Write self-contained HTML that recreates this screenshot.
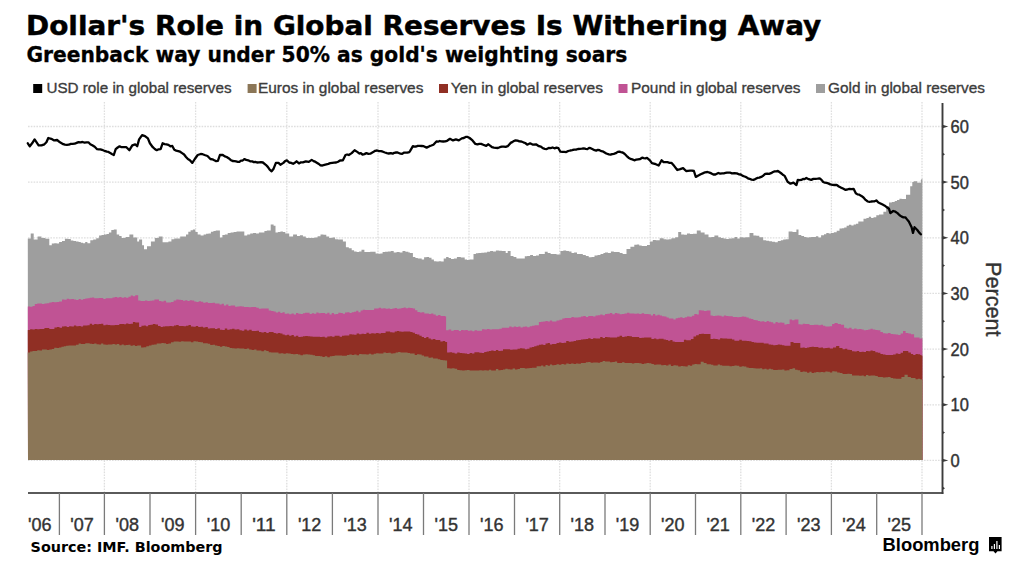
<!DOCTYPE html>
<html><head><meta charset="utf-8"><title>Dollar's Role in Global Reserves Is Withering Away</title>
<style>
html,body{margin:0;padding:0;background:#fff;}
body{width:1024px;height:566px;overflow:hidden;}
svg{display:block;font-family:"Liberation Sans",Arial,sans-serif;}
</style></head><body>
<svg width="1024" height="566" viewBox="0 0 1024 566">
<rect width="1024" height="566" fill="#fff"/>
<line x1="28.0" y1="460.4" x2="942" y2="460.4" stroke="#dedede" stroke-width="1.3" stroke-dasharray="1.6,1.2"/>
<line x1="28.0" y1="404.8" x2="942" y2="404.8" stroke="#dedede" stroke-width="1.3" stroke-dasharray="1.6,1.2"/>
<line x1="28.0" y1="349.1" x2="942" y2="349.1" stroke="#dedede" stroke-width="1.3" stroke-dasharray="1.6,1.2"/>
<line x1="28.0" y1="293.4" x2="942" y2="293.4" stroke="#dedede" stroke-width="1.3" stroke-dasharray="1.6,1.2"/>
<line x1="28.0" y1="237.8" x2="942" y2="237.8" stroke="#dedede" stroke-width="1.3" stroke-dasharray="1.6,1.2"/>
<line x1="28.0" y1="182.1" x2="942" y2="182.1" stroke="#dedede" stroke-width="1.3" stroke-dasharray="1.6,1.2"/>
<line x1="28.0" y1="126.5" x2="942" y2="126.5" stroke="#dedede" stroke-width="1.3" stroke-dasharray="1.6,1.2"/>
<line x1="104.4" y1="102" x2="104.4" y2="493" stroke="#dedede" stroke-width="1.3" stroke-dasharray="1.6,1.2"/>
<line x1="195.6" y1="102" x2="195.6" y2="493" stroke="#dedede" stroke-width="1.3" stroke-dasharray="1.6,1.2"/>
<line x1="286.8" y1="102" x2="286.8" y2="493" stroke="#dedede" stroke-width="1.3" stroke-dasharray="1.6,1.2"/>
<line x1="378.0" y1="102" x2="378.0" y2="493" stroke="#dedede" stroke-width="1.3" stroke-dasharray="1.6,1.2"/>
<line x1="469.0" y1="102" x2="469.0" y2="493" stroke="#dedede" stroke-width="1.3" stroke-dasharray="1.6,1.2"/>
<line x1="559.7" y1="102" x2="559.7" y2="493" stroke="#dedede" stroke-width="1.3" stroke-dasharray="1.6,1.2"/>
<line x1="650.2" y1="102" x2="650.2" y2="493" stroke="#dedede" stroke-width="1.3" stroke-dasharray="1.6,1.2"/>
<line x1="740.8" y1="102" x2="740.8" y2="493" stroke="#dedede" stroke-width="1.3" stroke-dasharray="1.6,1.2"/>
<line x1="831.4" y1="102" x2="831.4" y2="493" stroke="#dedede" stroke-width="1.3" stroke-dasharray="1.6,1.2"/>
<line x1="922.0" y1="102" x2="922.0" y2="493" stroke="#dedede" stroke-width="1.3" stroke-dasharray="1.6,1.2"/>
<path d="M28.0,460.0 L27.8,238.4 L30.7,238.4 L30.7,233.6 L33.7,233.6 L33.7,239.4 L37.6,239.4 L37.6,236.5 L41.5,236.5 L41.5,238.0 L45.4,238.0 L45.4,238.8 L49.3,238.8 L49.3,245.3 L51.8,245.3 L51.8,243.5 L54.2,243.5 L54.2,243.3 L56.7,243.3 L56.7,243.4 L59.1,243.4 L59.1,242.0 L62.0,242.0 L62.0,241.0 L64.9,241.0 L64.9,238.8 L67.8,238.8 L67.8,239.1 L70.8,239.1 L70.8,240.4 L73.4,240.4 L73.4,240.9 L76.0,240.9 L76.0,241.4 L78.6,241.4 L78.6,242.0 L80.8,242.0 L80.8,242.7 L83.0,242.7 L83.0,243.3 L85.2,243.3 L85.2,242.1 L87.4,242.1 L87.4,243.3 L90.3,243.3 L90.3,240.3 L93.2,240.3 L93.2,239.4 L96.2,239.4 L96.2,238.2 L99.1,238.2 L99.1,235.5 L101.5,235.5 L101.5,234.9 L104.0,234.9 L104.0,234.5 L106.5,234.5 L106.5,234.1 L108.9,234.1 L108.9,232.6 L111.3,232.6 L111.3,230.0 L113.8,230.0 L113.8,229.6 L116.7,229.6 L116.7,234.5 L119.2,234.5 L119.2,236.1 L121.6,236.1 L121.6,238.0 L125.5,238.0 L125.5,236.9 L129.4,236.9 L129.4,234.5 L133.3,234.5 L133.3,237.5 L137.2,237.5 L137.2,241.4 L139.1,241.4 L139.1,239.4 L142.1,239.4 L142.1,245.3 L144.0,245.3 L144.0,249.2 L147.0,249.2 L147.0,246.2 L150.9,246.2 L150.9,241.4 L154.8,241.4 L154.8,238.0 L158.7,238.0 L158.7,236.5 L162.6,236.5 L162.6,242.3 L165.5,242.3 L165.5,242.3 L168.4,242.3 L168.4,241.4 L171.4,241.4 L171.4,239.3 L174.3,239.3 L174.3,238.4 L177.2,238.4 L177.2,238.4 L180.2,238.4 L180.2,236.5 L183.1,236.5 L183.1,236.4 L186.0,236.4 L186.0,234.5 L188.3,234.5 L188.3,231.8 L190.6,231.8 L190.6,230.2 L192.9,230.2 L192.9,229.6 L195.3,229.6 L195.3,232.1 L197.7,232.1 L197.7,234.5 L200.6,234.5 L200.6,235.5 L203.6,235.5 L203.6,234.5 L206.1,234.5 L206.1,233.8 L208.5,233.8 L208.5,233.6 L210.9,233.6 L210.9,231.7 L213.4,231.7 L213.4,231.0 L215.7,231.0 L215.7,230.6 L217.9,230.6 L217.9,230.6 L219.9,230.6 L219.9,237.5 L222.4,237.5 L222.4,235.0 L224.8,235.0 L224.8,234.5 L227.7,234.5 L227.7,232.9 L230.6,232.9 L230.6,232.6 L233.6,232.6 L233.6,232.0 L236.5,232.0 L236.5,231.6 L240.4,231.6 L240.4,231.6 L244.3,231.6 L244.3,235.5 L247.2,235.5 L247.2,234.5 L250.2,234.5 L250.2,233.6 L253.1,233.6 L253.1,233.0 L256.0,233.0 L256.0,233.6 L258.9,233.6 L258.9,232.5 L261.9,232.5 L261.9,232.6 L264.4,232.6 L264.4,231.0 L266.8,231.0 L266.8,230.6 L270.7,230.6 L270.7,224.4 L273.6,224.4 L273.6,225.7 L275.5,225.7 L275.5,232.6 L277.9,232.6 L277.9,232.0 L280.4,232.0 L280.4,231.6 L282.9,231.6 L282.9,232.1 L285.3,232.1 L285.3,233.6 L289.2,233.6 L289.2,236.5 L293.1,236.5 L293.1,234.5 L297.0,234.5 L297.0,236.1 L299.9,236.1 L299.9,235.2 L302.9,235.2 L302.9,236.5 L305.8,236.5 L305.8,238.0 L308.8,238.0 L308.8,238.0 L311.7,238.0 L311.7,237.9 L314.6,237.9 L314.6,237.5 L317.6,237.5 L317.6,236.3 L320.5,236.3 L320.5,234.5 L323.4,234.5 L323.4,234.8 L326.3,234.8 L326.3,236.5 L329.2,236.5 L329.2,238.1 L332.2,238.1 L332.2,237.5 L335.1,237.5 L335.1,239.2 L338.0,239.2 L338.0,239.4 L340.4,239.4 L340.4,239.6 L342.9,239.6 L342.9,241.4 L345.9,241.4 L345.9,247.2 L348.8,247.2 L348.8,248.3 L351.7,248.3 L351.7,250.2 L354.1,250.2 L354.1,251.6 L356.6,251.6 L356.6,252.1 L359.1,252.1 L359.1,251.4 L361.5,251.4 L361.5,249.8 L364.4,249.8 L364.4,251.9 L367.3,251.9 L367.3,252.1 L370.2,252.1 L370.2,251.7 L373.2,251.7 L373.2,251.7 L375.6,251.7 L375.6,253.4 L378.1,253.4 L378.1,253.7 L380.4,253.7 L380.4,253.4 L382.6,253.4 L382.6,251.9 L384.9,251.9 L384.9,251.7 L387.9,251.7 L387.9,251.6 L390.8,251.6 L390.8,251.1 L393.7,251.1 L393.7,252.4 L396.6,252.4 L396.6,252.1 L399.6,252.1 L399.6,252.4 L402.5,252.4 L402.5,251.1 L405.4,251.1 L405.4,251.8 L408.4,251.8 L408.4,252.5 L410.0,252.5 L410.0,253.1 L412.9,253.1 L412.9,257.0 L415.4,257.0 L415.4,257.9 L417.8,257.9 L417.8,258.4 L421.7,258.4 L421.7,259.5 L424.1,259.5 L424.1,257.2 L426.6,257.2 L426.6,257.0 L429.1,257.0 L429.1,257.7 L431.5,257.7 L431.5,259.5 L433.9,259.5 L433.9,261.2 L436.4,261.2 L436.4,261.5 L438.8,261.5 L438.8,261.3 L441.2,261.3 L441.2,261.5 L443.7,261.5 L443.7,258.5 L446.1,258.5 L446.1,257.0 L448.6,257.0 L448.6,258.1 L451.0,258.1 L451.0,258.9 L453.9,258.9 L453.9,258.4 L456.9,258.4 L456.9,257.0 L460.8,257.0 L460.8,257.6 L464.7,257.6 L464.7,259.5 L467.1,259.5 L467.1,259.9 L469.6,259.9 L469.6,259.5 L473.5,259.5 L473.5,254.1 L475.9,254.1 L475.9,253.3 L478.4,253.3 L478.4,253.1 L481.3,253.1 L481.3,252.7 L484.2,252.7 L484.2,252.5 L487.1,252.5 L487.1,251.8 L490.1,251.8 L490.1,251.1 L493.0,251.1 L493.0,251.4 L495.9,251.4 L495.9,250.5 L498.9,250.5 L498.9,250.8 L501.8,250.8 L501.8,251.1 L505.7,251.1 L505.7,253.1 L507.7,253.1 L507.7,251.1 L510.6,251.1 L510.6,256.0 L513.5,256.0 L513.5,257.0 L516.4,257.0 L516.4,258.4 L519.3,258.4 L519.3,258.4 L522.3,258.4 L522.3,258.4 L524.8,258.4 L524.8,256.2 L527.2,256.2 L527.2,256.0 L530.1,256.0 L530.1,255.0 L533.0,255.0 L533.0,256.0 L536.0,256.0 L536.0,255.5 L538.9,255.5 L538.9,254.1 L541.8,254.1 L541.8,254.0 L544.8,254.0 L544.8,251.7 L547.7,251.7 L547.7,253.1 L550.6,253.1 L550.6,254.1 L553.5,254.1 L553.5,254.1 L556.5,254.1 L556.5,254.5 L560.4,254.5 L560.4,251.1 L563.3,251.1 L563.3,250.4 L566.2,250.4 L566.2,251.1 L568.9,251.1 L568.9,251.6 L571.5,251.6 L571.5,253.1 L574.1,253.1 L574.1,252.5 L577.0,252.5 L577.0,253.9 L579.9,253.9 L579.9,254.1 L582.8,254.1 L582.8,255.1 L585.8,255.1 L585.8,256.0 L588.7,256.0 L588.7,257.3 L591.6,257.3 L591.6,257.0 L594.5,257.0 L594.5,255.4 L597.5,255.4 L597.5,255.0 L600.5,255.0 L600.5,254.1 L603.4,254.1 L603.4,253.1 L605.0,253.1 L605.0,252.6 L608.0,252.6 L608.0,253.0 L610.9,253.0 L610.9,251.4 L613.8,251.4 L613.8,251.9 L616.7,251.9 L616.7,252.0 L619.7,252.0 L619.7,252.9 L622.6,252.9 L622.6,253.9 L626.5,253.9 L626.5,249.1 L630.4,249.1 L630.4,246.7 L634.3,246.7 L634.3,244.8 L636.8,244.8 L636.8,244.6 L639.2,244.6 L639.2,245.5 L641.7,245.5 L641.7,245.9 L644.1,245.9 L644.1,246.1 L647.0,246.1 L647.0,244.9 L649.9,244.9 L649.9,241.6 L652.8,241.6 L652.8,239.9 L655.8,239.9 L655.8,240.3 L659.7,240.3 L659.7,238.3 L663.6,238.3 L663.6,239.3 L666.2,239.3 L666.2,239.6 L668.8,239.6 L668.8,239.3 L671.4,239.3 L671.4,238.3 L675.3,238.3 L675.3,237.3 L678.2,237.3 L678.2,231.9 L681.2,231.9 L681.2,234.4 L684.1,234.4 L684.1,234.7 L687.0,234.7 L687.0,233.4 L690.0,233.4 L690.0,234.1 L692.9,234.1 L692.9,233.8 L696.8,233.8 L696.8,230.5 L700.7,230.5 L700.7,232.5 L704.6,232.5 L704.6,234.4 L708.5,234.4 L708.5,237.3 L711.5,237.3 L711.5,237.0 L714.4,237.0 L714.4,235.4 L718.3,235.4 L718.3,237.3 L720.9,237.3 L720.9,237.9 L723.5,237.9 L723.5,238.5 L726.1,238.5 L726.1,238.9 L729.0,238.9 L729.0,238.4 L732.0,238.4 L732.0,238.3 L734.6,238.3 L734.6,237.0 L737.2,237.0 L737.2,238.4 L739.8,238.4 L739.8,237.3 L742.7,237.3 L742.7,237.5 L745.6,237.5 L745.6,237.3 L749.5,237.3 L749.5,233.0 L753.4,233.0 L753.4,235.4 L756.3,235.4 L756.3,235.7 L759.3,235.7 L759.3,237.3 L763.2,237.3 L763.2,240.3 L766.2,240.3 L766.2,240.8 L769.1,240.8 L769.1,241.2 L772.0,241.2 L772.0,241.7 L774.9,241.7 L774.9,242.2 L777.8,242.2 L777.8,240.9 L780.8,240.9 L780.8,240.3 L783.2,240.3 L783.2,239.5 L785.7,239.5 L785.7,239.3 L788.6,239.3 L788.6,231.5 L792.5,231.5 L792.5,231.9 L796.4,231.9 L796.4,229.5 L798.5,229.5 L798.5,235.0 L801.3,235.0 L801.3,236.1 L804.1,236.1 L804.1,237.1 L806.5,237.1 L806.5,237.4 L808.8,237.4 L808.8,237.3 L811.2,237.3 L811.2,237.1 L813.6,237.1 L813.6,237.1 L815.9,237.1 L815.9,236.3 L818.3,236.3 L818.3,237.4 L821.1,237.4 L821.1,235.3 L824.0,235.3 L824.0,234.3 L826.3,234.3 L826.3,233.1 L828.7,233.1 L828.7,233.6 L831.0,233.6 L831.0,232.9 L833.8,232.9 L833.8,232.3 L836.7,232.3 L836.7,230.7 L839.5,230.7 L839.5,228.6 L841.9,228.6 L841.9,228.3 L844.2,228.3 L844.2,227.4 L846.6,227.4 L846.6,225.8 L848.9,225.8 L848.9,224.8 L851.3,224.8 L851.3,225.6 L853.6,225.6 L853.6,224.4 L856.0,224.4 L856.0,223.8 L858.3,223.8 L858.3,221.6 L860.7,221.6 L860.7,221.6 L863.5,221.6 L863.5,218.7 L866.4,218.7 L866.4,218.0 L868.8,218.0 L868.8,216.7 L871.1,216.7 L871.1,218.1 L873.5,218.1 L873.5,217.3 L876.3,217.3 L876.3,215.3 L879.1,215.3 L879.1,214.5 L883.4,214.5 L883.4,211.7 L886.2,211.7 L886.2,206.2 L889.0,206.2 L889.0,202.5 L891.9,202.5 L891.9,202.1 L894.7,202.1 L894.7,201.1 L897.0,201.1 L897.0,200.1 L899.4,200.1 L899.4,198.8 L901.7,198.8 L901.7,199.0 L906.0,199.0 L906.0,194.7 L910.2,194.7 L910.2,186.2 L912.3,186.2 L912.3,182.0 L913.8,182.0 L913.8,181.3 L917.3,181.3 L917.3,182.7 L920.8,182.7 L920.8,179.9 L922.4,178.4 L922.4,460.0 Z" fill="#9e9e9e"/>
<path d="M28.0,460.0 L27.8,306.5 L30.1,306.5 L30.1,306.7 L32.5,306.7 L32.5,306.1 L34.8,306.1 L34.8,304.0 L37.2,304.0 L37.2,303.4 L39.5,303.4 L39.5,303.6 L42.0,303.6 L42.0,304.0 L44.4,304.0 L44.4,303.5 L46.8,303.5 L46.8,303.2 L49.3,303.2 L49.3,302.6 L51.8,302.6 L51.8,302.0 L54.2,302.0 L54.2,302.3 L56.6,302.3 L56.6,302.0 L59.1,302.0 L59.1,301.6 L62.0,301.6 L62.0,299.6 L64.4,299.6 L64.4,299.7 L66.7,299.7 L66.7,298.8 L69.1,298.8 L69.1,299.2 L71.5,299.2 L71.5,299.1 L73.9,299.1 L73.9,299.6 L76.2,299.6 L76.2,300.0 L78.6,300.0 L78.6,299.0 L80.8,299.0 L80.8,299.7 L83.1,299.7 L83.1,298.9 L85.3,298.9 L85.3,298.6 L87.5,298.6 L87.5,298.2 L89.7,298.2 L89.7,297.7 L92.0,297.7 L92.0,297.5 L94.2,297.5 L94.2,298.3 L96.5,298.3 L96.5,298.2 L98.8,298.2 L98.8,298.0 L101.1,298.0 L101.1,298.1 L103.3,298.1 L103.3,299.0 L105.6,299.0 L105.6,298.3 L107.9,298.3 L107.9,298.3 L110.2,298.3 L110.2,298.3 L112.5,298.3 L112.5,297.6 L114.8,297.6 L114.8,297.1 L117.0,297.1 L117.0,297.6 L119.3,297.6 L119.3,297.1 L121.6,297.1 L121.6,297.7 L123.9,297.7 L123.9,297.3 L126.1,297.3 L126.1,297.8 L128.4,297.8 L128.4,296.8 L130.7,296.8 L130.7,295.5 L132.9,295.5 L132.9,296.3 L135.2,296.3 L135.2,295.2 L138.2,295.2 L138.2,300.6 L140.5,300.6 L140.5,301.1 L142.7,301.1 L142.7,301.0 L145.0,301.0 L145.0,300.6 L147.3,300.6 L147.3,301.1 L149.7,301.1 L149.7,300.7 L152.0,300.7 L152.0,300.5 L154.4,300.5 L154.4,299.5 L156.7,299.5 L156.7,299.6 L159.0,299.6 L159.0,301.1 L161.4,301.1 L161.4,301.6 L163.7,301.6 L163.7,300.8 L166.1,300.8 L166.1,302.5 L168.4,302.5 L168.4,302.6 L171.0,302.6 L171.0,302.0 L173.6,302.0 L173.6,300.5 L176.2,300.5 L176.2,299.6 L178.5,299.6 L178.5,299.8 L180.7,299.8 L180.7,299.9 L183.0,299.9 L183.0,300.8 L185.2,300.8 L185.2,300.2 L187.4,300.2 L187.4,300.9 L189.7,300.9 L189.7,300.2 L191.9,300.2 L191.9,300.6 L194.2,300.6 L194.2,301.6 L196.4,301.6 L196.4,301.9 L198.7,301.9 L198.7,301.3 L201.0,301.3 L201.0,301.8 L203.2,301.8 L203.2,302.7 L205.5,302.7 L205.5,302.2 L207.9,302.2 L207.9,303.0 L210.2,303.0 L210.2,302.9 L212.6,302.9 L212.6,302.7 L215.0,302.7 L215.0,303.6 L217.2,303.6 L217.2,303.6 L219.5,303.6 L219.5,304.5 L221.7,304.5 L221.7,303.8 L223.9,303.8 L223.9,305.4 L226.1,305.4 L226.1,304.5 L228.4,304.5 L228.4,306.0 L230.6,306.0 L230.6,305.5 L232.8,305.5 L232.8,305.4 L235.1,305.4 L235.1,306.7 L237.3,306.7 L237.3,306.5 L239.5,306.5 L239.5,306.3 L241.8,306.3 L241.8,306.5 L244.0,306.5 L244.0,307.0 L246.2,307.0 L246.2,306.9 L248.8,306.9 L248.8,307.3 L251.3,307.3 L251.3,307.0 L253.8,307.0 L253.8,307.0 L256.3,307.0 L256.3,307.8 L258.8,307.8 L258.8,308.8 L261.3,308.8 L261.3,308.4 L263.8,308.4 L263.8,308.4 L266.2,308.4 L266.2,308.4 L268.7,308.4 L268.7,310.5 L271.2,310.5 L271.2,311.1 L273.6,311.1 L273.6,311.4 L275.8,311.4 L275.8,312.5 L278.1,312.5 L278.1,311.7 L280.3,311.7 L280.3,313.1 L282.5,313.1 L282.5,312.3 L284.7,312.3 L284.7,313.7 L287.0,313.7 L287.0,313.5 L289.2,313.5 L289.2,314.3 L291.5,314.3 L291.5,313.6 L293.8,313.6 L293.8,314.6 L296.0,314.6 L296.0,313.1 L298.3,313.1 L298.3,313.7 L300.6,313.7 L300.6,314.1 L302.9,314.1 L302.9,313.3 L305.1,313.3 L305.1,312.8 L307.4,312.8 L307.4,312.8 L309.6,312.8 L309.6,314.0 L311.8,314.0 L311.8,313.2 L314.0,313.2 L314.0,313.7 L316.3,313.7 L316.3,312.5 L318.5,312.5 L318.5,313.3 L320.7,313.3 L320.7,313.1 L322.9,313.1 L322.9,312.9 L325.1,312.9 L325.1,313.8 L327.3,313.8 L327.3,312.8 L329.5,312.8 L329.5,314.5 L331.7,314.5 L331.7,312.9 L333.9,312.9 L333.9,314.2 L336.1,314.2 L336.1,313.9 L338.3,313.9 L338.3,312.8 L340.6,312.8 L340.6,313.0 L342.8,313.0 L342.8,313.8 L345.0,313.8 L345.0,312.4 L347.2,312.4 L347.2,312.2 L349.5,312.2 L349.5,312.9 L351.7,312.9 L351.7,312.3 L353.9,312.3 L353.9,311.8 L356.2,311.8 L356.2,310.8 L358.4,310.8 L358.4,312.2 L360.6,312.2 L360.6,310.4 L362.8,310.4 L362.8,309.8 L365.1,309.8 L365.1,310.0 L367.3,310.0 L367.3,310.0 L369.6,310.0 L369.6,309.9 L371.9,309.9 L371.9,309.9 L374.1,309.9 L374.1,308.5 L376.4,308.5 L376.4,308.6 L378.7,308.6 L378.7,307.8 L381.0,307.8 L381.0,308.4 L383.3,308.4 L383.3,308.2 L385.6,308.2 L385.6,308.7 L387.9,308.7 L387.9,308.6 L390.1,308.6 L390.1,308.9 L392.4,308.9 L392.4,308.5 L394.7,308.5 L394.7,308.0 L396.9,308.0 L396.9,308.7 L399.2,308.7 L399.2,308.4 L401.4,308.4 L401.4,308.0 L403.6,308.0 L403.6,307.5 L405.8,307.5 L405.8,308.3 L408.1,308.3 L408.1,307.7 L410.3,307.7 L410.3,308.0 L412.7,308.0 L412.7,308.4 L415.1,308.4 L415.1,310.2 L417.4,310.2 L417.4,312.1 L419.8,312.1 L419.8,312.6 L422.1,312.6 L422.1,312.2 L424.3,312.2 L424.3,313.4 L426.6,313.4 L426.6,313.4 L428.9,313.4 L428.9,313.9 L431.1,313.9 L431.1,313.5 L433.4,313.5 L433.4,314.5 L435.8,314.5 L435.8,315.7 L438.1,315.7 L438.1,314.9 L440.5,314.9 L440.5,315.9 L442.8,315.9 L442.8,316.0 L445.2,316.0 L445.2,316.5 L446.1,316.5 L446.1,330.2 L448.6,330.2 L448.6,329.5 L451.2,329.5 L451.2,330.7 L453.7,330.7 L453.7,330.1 L456.3,330.1 L456.3,330.1 L458.8,330.1 L458.8,331.1 L461.0,331.1 L461.0,330.1 L463.3,330.1 L463.3,330.2 L465.5,330.2 L465.5,330.0 L467.8,330.0 L467.8,330.8 L470.0,330.8 L470.0,330.5 L472.3,330.5 L472.3,331.2 L474.5,331.2 L474.5,330.2 L477.0,330.2 L477.0,330.8 L479.5,330.8 L479.5,330.8 L482.0,330.8 L482.0,329.3 L484.5,329.3 L484.5,329.5 L487.0,329.5 L487.0,329.0 L489.5,329.0 L489.5,329.5 L492.0,329.5 L492.0,329.2 L494.4,329.2 L494.4,329.2 L496.9,329.2 L496.9,329.2 L499.4,329.2 L499.4,328.8 L501.8,328.8 L501.8,327.8 L504.2,327.8 L504.2,327.8 L506.7,327.8 L506.7,327.7 L509.2,327.7 L509.2,326.6 L511.6,326.6 L511.6,327.2 L513.8,327.2 L513.8,326.4 L516.1,326.4 L516.1,327.0 L518.3,327.0 L518.3,326.5 L520.5,326.5 L520.5,327.6 L522.7,327.6 L522.7,326.7 L525.0,326.7 L525.0,326.5 L527.2,326.5 L527.2,327.2 L529.7,327.2 L529.7,326.2 L532.1,326.2 L532.1,325.8 L534.5,325.8 L534.5,325.3 L537.0,325.3 L537.0,325.3 L538.9,325.3 L538.9,322.0 L541.1,322.0 L541.1,321.8 L543.3,321.8 L543.3,321.5 L545.5,321.5 L545.5,321.1 L547.7,321.1 L547.7,321.5 L549.9,321.5 L549.9,320.5 L552.1,320.5 L552.1,321.5 L554.3,321.5 L554.3,321.4 L556.5,321.4 L556.5,320.4 L559.4,320.4 L559.4,319.8 L562.3,319.8 L562.3,318.4 L564.6,318.4 L564.6,318.1 L566.9,318.1 L566.9,318.1 L569.1,318.1 L569.1,318.1 L571.4,318.1 L571.4,317.0 L573.7,317.0 L573.7,317.5 L576.0,317.5 L576.0,317.5 L578.4,317.5 L578.4,317.3 L580.9,317.3 L580.9,316.4 L583.3,316.4 L583.3,316.0 L585.8,316.0 L585.8,317.0 L588.2,317.0 L588.2,316.0 L590.6,316.0 L590.6,316.0 L593.1,316.0 L593.1,316.5 L595.5,316.5 L595.5,315.5 L597.9,315.5 L597.9,315.3 L600.2,315.3 L600.2,314.4 L602.6,314.4 L602.6,315.3 L605.0,315.3 L605.0,314.1 L607.4,314.1 L607.4,313.8 L609.9,313.8 L609.9,313.1 L612.3,313.1 L612.3,314.2 L614.8,314.2 L614.8,313.1 L617.2,313.1 L617.2,313.4 L619.6,313.4 L619.6,314.3 L622.1,314.3 L622.1,314.0 L624.5,314.0 L624.5,313.6 L627.0,313.6 L627.0,312.8 L629.4,312.8 L629.4,313.6 L631.9,313.6 L631.9,313.6 L634.3,313.6 L634.3,313.8 L636.8,313.8 L636.8,313.4 L639.2,313.4 L639.2,314.1 L641.6,314.1 L641.6,313.3 L644.1,313.3 L644.1,314.1 L646.3,314.1 L646.3,313.9 L648.6,313.9 L648.6,314.3 L650.8,314.3 L650.8,315.5 L653.0,315.5 L653.0,314.1 L655.2,314.1 L655.2,315.6 L657.5,315.6 L657.5,314.7 L659.7,314.7 L659.7,315.5 L662.0,315.5 L662.0,316.3 L664.3,316.3 L664.3,316.6 L666.5,316.6 L666.5,317.4 L668.8,317.4 L668.8,318.6 L671.1,318.6 L671.1,318.6 L673.4,318.6 L673.4,319.4 L675.7,319.4 L675.7,318.2 L677.9,318.2 L677.9,317.8 L680.2,317.8 L680.2,317.2 L682.5,317.2 L682.5,318.1 L684.7,318.1 L684.7,317.2 L687.0,317.2 L687.0,316.5 L689.5,316.5 L689.5,316.8 L691.9,316.8 L691.9,315.8 L694.3,315.8 L694.3,314.1 L696.8,314.1 L696.8,314.5 L698.8,314.5 L698.8,310.2 L701.4,310.2 L701.4,310.6 L704.0,310.6 L704.0,311.0 L706.6,311.0 L706.6,310.6 L710.5,310.6 L710.5,315.5 L712.7,315.5 L712.7,316.0 L715.0,316.0 L715.0,315.7 L717.2,315.7 L717.2,315.5 L719.4,315.5 L719.4,315.8 L721.6,315.8 L721.6,316.5 L723.9,316.5 L723.9,315.6 L726.1,315.6 L726.1,316.1 L728.3,316.1 L728.3,316.2 L730.6,316.2 L730.6,316.2 L732.8,316.2 L732.8,317.1 L735.0,317.1 L735.0,316.9 L737.2,316.9 L737.2,317.2 L739.5,317.2 L739.5,317.0 L741.7,317.0 L741.7,316.5 L744.0,316.5 L744.0,316.8 L746.4,316.8 L746.4,317.4 L748.7,317.4 L748.7,318.6 L751.1,318.6 L751.1,318.9 L753.4,318.9 L753.4,320.0 L755.6,320.0 L755.6,320.2 L757.8,320.2 L757.8,320.9 L760.0,320.9 L760.0,321.6 L762.2,321.6 L762.2,321.3 L764.4,321.3 L764.4,322.0 L766.6,322.0 L766.6,321.0 L768.8,321.0 L768.8,321.8 L771.0,321.8 L771.0,322.3 L773.2,322.3 L773.2,323.4 L775.5,323.4 L775.5,322.1 L777.7,322.1 L777.7,322.8 L779.9,322.8 L779.9,322.4 L782.1,322.4 L782.1,322.7 L784.4,322.7 L784.4,324.4 L786.6,324.4 L786.6,323.9 L789.6,323.9 L789.6,319.4 L792.0,319.4 L792.0,320.3 L794.5,320.3 L794.5,319.4 L798.4,319.4 L798.4,324.3 L800.6,324.3 L800.6,324.6 L802.8,324.6 L802.8,323.7 L805.0,323.7 L805.0,324.1 L807.3,324.1 L807.3,324.0 L809.5,324.0 L809.5,324.9 L811.7,324.9 L811.7,325.0 L813.9,325.0 L813.9,324.7 L816.2,324.7 L816.2,324.8 L818.4,324.8 L818.4,325.2 L820.7,325.2 L820.7,324.7 L823.0,324.7 L823.0,325.7 L825.3,325.7 L825.3,326.6 L827.5,326.6 L827.5,326.5 L829.8,326.5 L829.8,326.2 L832.1,326.2 L832.1,323.9 L834.5,323.9 L834.5,323.1 L837.7,323.1 L837.7,323.9 L840.9,323.9 L840.9,324.7 L844.1,324.7 L844.1,327.8 L846.6,327.8 L846.6,328.4 L849.1,328.4 L849.1,327.8 L851.6,327.8 L851.6,329.2 L854.1,329.2 L854.1,328.6 L856.6,328.6 L856.6,329.3 L859.1,329.3 L859.1,329.0 L861.6,329.0 L861.6,329.4 L863.8,329.4 L863.8,330.3 L866.0,330.3 L866.0,329.9 L868.3,329.9 L868.3,329.5 L870.5,329.5 L870.5,328.8 L872.7,328.8 L872.7,329.4 L875.3,329.4 L875.3,330.1 L877.8,330.1 L877.8,330.2 L880.4,330.2 L880.4,332.0 L882.9,332.0 L882.9,333.3 L885.5,333.3 L885.5,333.4 L888.0,333.4 L888.0,333.1 L890.6,333.1 L890.6,334.1 L893.1,334.1 L893.1,334.3 L895.7,334.3 L895.7,334.5 L898.2,334.5 L898.2,335.0 L900.6,335.0 L900.6,333.4 L903.0,333.4 L903.0,331.0 L905.6,331.0 L905.6,332.9 L908.3,332.9 L908.3,333.5 L910.9,333.5 L910.9,334.2 L914.1,334.2 L914.1,337.4 L916.9,337.4 L916.9,337.6 L919.6,337.6 L919.6,338.8 L922.4,338.2 L922.4,460.0 Z" fill="#c05394"/>
<path d="M28.0,460.0 L27.8,329.9 L30.1,329.9 L30.1,329.2 L32.5,329.2 L32.5,329.6 L34.8,329.6 L34.8,329.1 L37.2,329.1 L37.2,329.3 L39.5,329.3 L39.5,328.9 L42.0,328.9 L42.0,329.1 L44.4,329.1 L44.4,328.1 L46.8,328.1 L46.8,328.0 L49.3,328.0 L49.3,328.9 L51.8,328.9 L51.8,329.0 L54.4,329.0 L54.4,327.5 L56.9,327.5 L56.9,326.9 L59.5,326.9 L59.5,327.8 L62.0,327.8 L62.0,326.4 L64.4,326.4 L64.4,326.3 L66.7,326.3 L66.7,326.9 L69.1,326.9 L69.1,326.2 L71.5,326.2 L71.5,326.4 L73.9,326.4 L73.9,325.5 L76.2,325.5 L76.2,326.3 L78.6,326.3 L78.6,326.0 L80.8,326.0 L80.8,326.4 L83.1,326.4 L83.1,325.5 L85.3,325.5 L85.3,325.6 L87.5,325.6 L87.5,325.2 L89.7,325.2 L89.7,323.8 L92.0,323.8 L92.0,324.8 L94.2,324.8 L94.2,324.0 L96.5,324.0 L96.5,324.3 L98.8,324.3 L98.8,324.0 L101.1,324.0 L101.1,323.7 L103.3,323.7 L103.3,325.3 L105.6,325.3 L105.6,324.8 L107.9,324.8 L107.9,325.0 L110.2,325.0 L110.2,325.2 L112.5,325.2 L112.5,325.3 L114.8,325.3 L114.8,324.9 L117.0,324.9 L117.0,325.1 L119.3,325.1 L119.3,324.0 L121.6,324.0 L121.6,324.0 L123.9,324.0 L123.9,324.3 L126.1,324.3 L126.1,323.4 L128.4,323.4 L128.4,324.0 L130.7,324.0 L130.7,323.7 L132.9,323.7 L132.9,322.0 L135.2,322.0 L135.2,322.5 L139.1,322.5 L139.1,327.0 L141.4,327.0 L141.4,325.8 L143.7,325.8 L143.7,325.5 L145.9,325.5 L145.9,326.3 L148.2,326.3 L148.2,324.9 L150.5,324.9 L150.5,324.7 L152.8,324.7 L152.8,324.0 L155.4,324.0 L155.4,324.6 L158.0,324.6 L158.0,326.0 L160.6,326.0 L160.6,327.0 L162.8,327.0 L162.8,326.5 L165.1,326.5 L165.1,326.2 L167.3,326.2 L167.3,326.3 L169.5,326.3 L169.5,326.0 L171.8,326.0 L171.8,326.3 L174.0,326.3 L174.0,325.6 L176.2,325.6 L176.2,325.0 L178.7,325.0 L178.7,325.9 L181.1,325.9 L181.1,325.9 L183.6,325.9 L183.6,326.3 L186.0,326.3 L186.0,325.8 L188.5,325.8 L188.5,325.0 L190.9,325.0 L190.9,326.4 L193.4,326.4 L193.4,326.7 L195.8,326.7 L195.8,326.0 L198.2,326.0 L198.2,327.1 L200.6,327.1 L200.6,326.8 L203.0,326.8 L203.0,327.5 L205.4,327.5 L205.4,326.9 L207.8,326.9 L207.8,328.4 L210.2,328.4 L210.2,328.3 L212.6,328.3 L212.6,328.2 L215.0,328.2 L215.0,328.9 L217.4,328.9 L217.4,328.2 L219.9,328.2 L219.9,329.7 L222.3,329.7 L222.3,330.0 L224.8,330.0 L224.8,328.5 L227.2,328.5 L227.2,329.8 L229.6,329.8 L229.6,329.2 L232.1,329.2 L232.1,328.8 L234.5,328.8 L234.5,329.5 L236.9,329.5 L236.9,329.3 L239.4,329.3 L239.4,330.3 L241.8,330.3 L241.8,330.7 L244.3,330.7 L244.3,329.4 L246.8,329.4 L246.8,330.6 L249.2,330.6 L249.2,329.7 L251.7,329.7 L251.7,331.1 L254.1,331.1 L254.1,330.9 L256.5,330.9 L256.5,330.8 L259.0,330.8 L259.0,332.1 L261.4,332.1 L261.4,332.5 L263.9,332.5 L263.9,331.9 L266.3,331.9 L266.3,333.0 L268.7,333.0 L268.7,332.1 L271.2,332.1 L271.2,331.9 L273.6,331.9 L273.6,332.9 L275.8,332.9 L275.8,333.5 L278.1,333.5 L278.1,332.9 L280.3,332.9 L280.3,333.6 L282.5,333.6 L282.5,334.4 L284.7,334.4 L284.7,335.2 L287.0,335.2 L287.0,334.8 L289.2,334.8 L289.2,335.8 L291.5,335.8 L291.5,335.0 L293.8,335.0 L293.8,336.6 L296.0,336.6 L296.0,335.7 L298.3,335.7 L298.3,336.9 L300.6,336.9 L300.6,336.8 L302.9,336.8 L302.9,336.2 L305.3,336.2 L305.3,336.1 L307.8,336.1 L307.8,336.3 L310.2,336.3 L310.2,336.5 L312.6,336.5 L312.6,336.8 L315.1,336.8 L315.1,336.7 L317.5,336.7 L317.5,336.8 L320.0,336.8 L320.0,336.9 L322.4,336.9 L322.4,336.8 L324.8,336.8 L324.8,337.5 L327.3,337.5 L327.3,336.6 L329.8,336.6 L329.8,336.3 L332.2,336.3 L332.2,336.7 L334.6,336.7 L334.6,335.7 L337.1,335.7 L337.1,335.7 L339.6,335.7 L339.6,336.8 L342.0,336.8 L342.0,335.8 L344.4,335.8 L344.4,335.6 L346.9,335.6 L346.9,335.4 L349.3,335.4 L349.3,334.2 L351.8,334.2 L351.8,334.6 L354.2,334.6 L354.2,334.7 L356.6,334.7 L356.6,333.4 L359.1,333.4 L359.1,334.3 L361.5,334.3 L361.5,333.8 L363.9,333.8 L363.9,333.9 L366.4,333.9 L366.4,332.8 L368.8,332.8 L368.8,333.7 L371.2,333.7 L371.2,333.3 L373.7,333.3 L373.7,333.6 L376.1,333.6 L376.1,332.9 L378.6,332.9 L378.6,333.4 L381.0,333.4 L381.0,332.9 L383.3,332.9 L383.3,333.1 L385.6,333.1 L385.6,331.6 L387.9,331.6 L387.9,331.4 L390.1,331.4 L390.1,332.3 L392.4,332.3 L392.4,332.6 L394.7,332.6 L394.7,331.5 L396.9,331.5 L396.9,331.1 L399.2,331.1 L399.2,331.5 L401.4,331.5 L401.4,331.8 L403.6,331.8 L403.6,331.4 L405.8,331.4 L405.8,331.5 L408.1,331.5 L408.1,331.5 L410.3,331.5 L410.3,331.9 L412.6,331.9 L412.6,332.7 L414.9,332.7 L414.9,334.1 L417.1,334.1 L417.1,334.6 L419.4,334.6 L419.4,335.8 L421.7,335.8 L421.7,337.0 L424.0,337.0 L424.0,338.0 L426.3,338.0 L426.3,337.1 L428.5,337.1 L428.5,338.6 L430.8,338.6 L430.8,339.4 L433.1,339.4 L433.1,339.1 L435.4,339.1 L435.4,339.9 L437.8,339.9 L437.8,339.9 L440.3,339.9 L440.3,341.4 L442.8,341.4 L442.8,340.9 L445.2,340.9 L445.2,341.9 L447.1,341.9 L447.1,352.6 L449.6,352.6 L449.6,352.2 L452.1,352.2 L452.1,352.8 L454.6,352.8 L454.6,353.4 L457.2,353.4 L457.2,352.5 L459.7,352.5 L459.7,353.0 L462.2,353.0 L462.2,353.2 L464.7,353.2 L464.7,353.6 L467.1,353.6 L467.1,354.0 L469.6,354.0 L469.6,353.1 L472.0,353.1 L472.0,353.6 L474.4,353.6 L474.4,352.2 L476.9,352.2 L476.9,352.3 L479.3,352.3 L479.3,352.7 L481.8,352.7 L481.8,352.9 L484.2,352.9 L484.2,352.0 L486.6,352.0 L486.6,351.6 L488.9,351.6 L488.9,351.0 L491.2,351.0 L491.2,350.5 L493.6,350.5 L493.6,351.0 L495.9,351.0 L495.9,350.1 L498.3,350.1 L498.3,350.9 L500.6,350.9 L500.6,350.7 L503.0,350.7 L503.0,349.3 L505.3,349.3 L505.3,349.2 L507.7,349.2 L507.7,349.3 L510.1,349.3 L510.1,349.8 L512.6,349.8 L512.6,349.4 L515.0,349.4 L515.0,349.6 L517.5,349.6 L517.5,348.7 L519.9,348.7 L519.9,348.3 L522.3,348.3 L522.3,348.5 L524.8,348.5 L524.8,349.3 L527.2,349.3 L527.2,348.7 L529.5,348.7 L529.5,347.5 L531.9,347.5 L531.9,346.9 L534.2,346.9 L534.2,346.2 L536.6,346.2 L536.6,345.4 L538.9,345.4 L538.9,344.8 L541.1,344.8 L541.1,344.4 L543.3,344.4 L543.3,345.1 L545.5,345.1 L545.5,343.5 L547.7,343.5 L547.7,343.0 L549.9,343.0 L549.9,344.4 L552.1,344.4 L552.1,344.1 L554.3,344.1 L554.3,344.0 L556.5,344.0 L556.5,342.9 L558.9,342.9 L558.9,342.5 L561.4,342.5 L561.4,343.1 L563.8,343.1 L563.8,342.7 L566.2,342.7 L566.2,341.1 L568.7,341.1 L568.7,341.7 L571.1,341.7 L571.1,341.6 L573.6,341.6 L573.6,340.9 L576.0,340.9 L576.0,340.3 L578.4,340.3 L578.4,340.1 L580.9,340.1 L580.9,339.4 L583.3,339.4 L583.3,339.3 L585.8,339.3 L585.8,338.9 L588.2,338.9 L588.2,338.3 L590.6,338.3 L590.6,339.0 L593.1,339.0 L593.1,338.3 L595.5,338.3 L595.5,338.4 L597.9,338.4 L597.9,338.6 L600.2,338.6 L600.2,336.9 L602.6,336.9 L602.6,338.1 L605.0,338.1 L605.0,337.0 L607.4,337.0 L607.4,337.3 L609.9,337.3 L609.9,337.6 L612.3,337.6 L612.3,337.5 L614.8,337.5 L614.8,337.4 L617.2,337.4 L617.2,336.8 L619.6,336.8 L619.6,335.7 L622.1,335.7 L622.1,336.9 L624.5,336.9 L624.5,336.4 L627.0,336.4 L627.0,336.0 L629.4,336.0 L629.4,336.3 L631.9,336.3 L631.9,337.1 L634.3,337.1 L634.3,337.0 L636.8,337.0 L636.8,337.0 L639.2,337.0 L639.2,338.1 L641.6,338.1 L641.6,337.7 L644.1,337.7 L644.1,337.6 L646.5,337.6 L646.5,337.6 L649.0,337.6 L649.0,337.6 L651.4,337.6 L651.4,339.0 L653.9,339.0 L653.9,338.5 L656.3,338.5 L656.3,339.3 L658.7,339.3 L658.7,338.8 L661.2,338.8 L661.2,338.7 L663.6,338.7 L663.6,339.5 L665.8,339.5 L665.8,339.9 L668.1,339.9 L668.1,340.8 L670.3,340.8 L670.3,339.9 L672.5,339.9 L672.5,341.4 L674.7,341.4 L674.7,342.0 L677.0,342.0 L677.0,342.1 L679.2,342.1 L679.2,341.9 L681.5,341.9 L681.5,341.9 L683.9,341.9 L683.9,339.8 L686.2,339.8 L686.2,340.3 L688.6,340.3 L688.6,340.2 L690.9,340.2 L690.9,338.9 L693.5,338.9 L693.5,336.5 L696.1,336.5 L696.1,335.3 L698.8,335.3 L698.8,334.1 L701.4,334.1 L701.4,333.7 L704.0,333.7 L704.0,334.1 L706.6,334.1 L706.6,334.1 L710.5,334.1 L710.5,338.9 L712.9,338.9 L712.9,338.8 L715.3,338.8 L715.3,339.0 L717.7,339.0 L717.7,339.6 L720.1,339.6 L720.1,338.3 L722.4,338.3 L722.4,338.4 L724.8,338.4 L724.8,338.6 L727.2,338.6 L727.2,338.7 L729.6,338.7 L729.6,338.7 L732.0,338.7 L732.0,339.5 L734.4,339.5 L734.4,340.7 L736.9,340.7 L736.9,340.7 L739.3,340.7 L739.3,339.7 L741.8,339.7 L741.8,340.7 L744.2,340.7 L744.2,340.7 L746.6,340.7 L746.6,341.0 L749.1,341.0 L749.1,341.3 L751.5,341.3 L751.5,341.9 L753.9,341.9 L753.9,342.5 L756.4,342.5 L756.4,342.8 L758.8,342.8 L758.8,342.7 L761.2,342.7 L761.2,342.8 L763.7,342.8 L763.7,343.4 L766.1,343.4 L766.1,343.4 L768.6,343.4 L768.6,344.5 L771.0,344.5 L771.0,344.8 L773.2,344.8 L773.2,345.3 L775.5,345.3 L775.5,344.9 L777.7,344.9 L777.7,344.5 L779.9,344.5 L779.9,344.8 L782.1,344.8 L782.1,345.3 L784.4,345.3 L784.4,345.8 L786.6,345.8 L786.6,345.8 L790.5,345.8 L790.5,341.9 L793.5,341.9 L793.5,342.9 L796.4,342.9 L796.4,342.9 L800.3,342.9 L800.3,347.7 L802.6,347.7 L802.6,347.4 L804.8,347.4 L804.8,348.0 L807.1,348.0 L807.1,347.5 L809.4,347.5 L809.4,347.0 L811.6,347.0 L811.6,346.8 L813.9,346.8 L813.9,346.9 L816.2,346.9 L816.2,347.1 L818.4,347.1 L818.4,347.7 L820.7,347.7 L820.7,347.4 L823.0,347.4 L823.0,348.2 L825.3,348.2 L825.3,348.0 L827.5,348.0 L827.5,347.8 L829.8,347.8 L829.8,348.5 L833.0,348.5 L833.0,347.4 L836.1,347.4 L836.1,346.1 L839.3,346.1 L839.3,348.1 L842.5,348.1 L842.5,349.3 L844.9,349.3 L844.9,348.8 L847.3,348.8 L847.3,349.8 L849.7,349.8 L849.7,350.1 L852.0,350.1 L852.0,351.2 L854.4,351.2 L854.4,351.6 L856.8,351.6 L856.8,350.9 L859.2,350.9 L859.2,352.1 L861.6,352.1 L861.6,351.7 L863.8,351.7 L863.8,352.1 L866.0,352.1 L866.0,351.0 L868.3,351.0 L868.3,351.2 L870.5,351.2 L870.5,350.4 L872.7,350.4 L872.7,350.9 L875.3,350.9 L875.3,352.3 L877.8,352.3 L877.8,352.8 L880.4,352.8 L880.4,354.0 L882.9,354.0 L882.9,354.6 L885.5,354.6 L885.5,354.9 L888.0,354.9 L888.0,355.0 L890.6,355.0 L890.6,355.0 L893.1,355.0 L893.1,354.5 L895.7,354.5 L895.7,353.5 L898.2,353.5 L898.2,354.1 L900.6,354.1 L900.6,352.7 L903.0,352.7 L903.0,350.9 L905.6,350.9 L905.6,351.1 L908.3,351.1 L908.3,352.4 L910.9,352.4 L910.9,354.1 L913.2,354.1 L913.2,354.9 L915.5,354.9 L915.5,353.9 L917.8,353.9 L917.8,354.3 L920.1,354.3 L920.1,354.7 L922.4,355.7 L922.4,460.0 Z" fill="#902f24"/>
<path d="M28.0,460.0 L27.8,352.4 L30.1,352.4 L30.1,351.6 L32.5,351.6 L32.5,351.0 L34.8,351.0 L34.8,351.1 L37.2,351.1 L37.2,350.3 L39.5,350.3 L39.5,350.4 L42.0,350.4 L42.0,349.4 L44.4,349.4 L44.4,349.5 L46.9,349.5 L46.9,349.9 L49.3,349.9 L49.3,349.4 L51.8,349.4 L51.8,349.0 L54.2,349.0 L54.2,347.8 L56.7,347.8 L56.7,347.9 L59.1,347.9 L59.1,347.5 L61.4,347.5 L61.4,346.8 L63.8,346.8 L63.8,346.2 L66.1,346.2 L66.1,345.7 L68.5,345.7 L68.5,345.5 L70.8,345.5 L70.8,345.5 L73.4,345.5 L73.4,345.5 L76.0,345.5 L76.0,344.7 L78.6,344.7 L78.6,343.6 L80.8,343.6 L80.8,344.0 L83.1,344.0 L83.1,344.0 L85.3,344.0 L85.3,343.2 L87.5,343.2 L87.5,343.3 L89.7,343.3 L89.7,343.8 L92.0,343.8 L92.0,343.9 L94.2,343.9 L94.2,343.6 L96.5,343.6 L96.5,344.3 L98.8,344.3 L98.8,344.5 L101.1,344.5 L101.1,343.5 L103.3,343.5 L103.3,344.4 L105.6,344.4 L105.6,344.7 L107.9,344.7 L107.9,344.6 L110.2,344.6 L110.2,344.6 L112.5,344.6 L112.5,344.1 L114.8,344.1 L114.8,344.6 L117.0,344.6 L117.0,344.0 L119.3,344.0 L119.3,345.2 L121.6,345.2 L121.6,344.6 L123.8,344.6 L123.8,345.2 L126.1,345.2 L126.1,344.9 L128.3,344.9 L128.3,344.7 L130.5,344.7 L130.5,345.7 L132.7,345.7 L132.7,345.3 L135.0,345.3 L135.0,345.9 L137.2,345.9 L137.2,345.5 L141.1,345.5 L141.1,347.5 L143.7,347.5 L143.7,347.3 L146.3,347.3 L146.3,346.2 L148.9,346.2 L148.9,345.5 L151.5,345.5 L151.5,344.7 L154.1,344.7 L154.1,344.4 L156.7,344.4 L156.7,343.6 L159.0,343.6 L159.0,343.5 L161.4,343.5 L161.4,343.1 L163.7,343.1 L163.7,343.3 L166.1,343.3 L166.1,344.0 L168.4,344.0 L168.4,343.6 L171.0,343.6 L171.0,342.3 L173.6,342.3 L173.6,341.6 L176.2,341.6 L176.2,341.6 L178.7,341.6 L178.7,341.8 L181.1,341.8 L181.1,341.3 L183.6,341.3 L183.6,341.6 L186.0,341.6 L186.0,341.6 L188.5,341.6 L188.5,341.4 L190.9,341.4 L190.9,342.3 L193.4,342.3 L193.4,341.2 L195.8,341.2 L195.8,341.6 L198.2,341.6 L198.2,342.0 L200.6,342.0 L200.6,342.2 L203.0,342.2 L203.0,343.2 L205.4,343.2 L205.4,343.2 L207.8,343.2 L207.8,343.8 L210.2,343.8 L210.2,344.9 L212.6,344.9 L212.6,344.8 L215.0,344.8 L215.0,345.5 L217.4,345.5 L217.4,346.0 L219.9,346.0 L219.9,346.8 L222.3,346.8 L222.3,346.1 L224.8,346.1 L224.8,346.4 L227.2,346.4 L227.2,347.0 L229.6,347.0 L229.6,348.1 L232.1,348.1 L232.1,348.3 L234.5,348.3 L234.5,348.5 L236.9,348.5 L236.9,348.3 L239.4,348.3 L239.4,348.5 L241.8,348.5 L241.8,348.4 L244.3,348.4 L244.3,348.9 L246.8,348.9 L246.8,348.5 L249.2,348.5 L249.2,349.5 L251.7,349.5 L251.7,349.9 L254.1,349.9 L254.1,349.5 L256.5,349.5 L256.5,350.5 L259.0,350.5 L259.0,350.6 L261.4,350.6 L261.4,351.2 L263.9,351.2 L263.9,350.3 L266.3,350.3 L266.3,351.0 L268.7,351.0 L268.7,352.3 L271.2,352.3 L271.2,352.4 L273.6,352.4 L273.6,352.4 L276.0,352.4 L276.0,352.5 L278.5,352.5 L278.5,353.5 L280.9,353.5 L280.9,353.3 L283.4,353.3 L283.4,353.8 L285.8,353.8 L285.8,353.3 L288.2,353.3 L288.2,353.4 L290.7,353.4 L290.7,354.0 L293.1,354.0 L293.1,354.3 L295.6,354.3 L295.6,353.9 L298.0,353.9 L298.0,354.4 L300.4,354.4 L300.4,355.3 L302.9,355.3 L302.9,354.6 L305.4,354.6 L305.4,354.2 L307.8,354.2 L307.8,354.4 L310.2,354.4 L310.2,354.7 L312.7,354.7 L312.7,355.3 L315.1,355.3 L315.1,356.1 L317.5,356.1 L317.5,355.9 L320.0,355.9 L320.0,356.2 L322.4,356.2 L322.4,356.9 L324.8,356.9 L324.8,356.2 L327.3,356.2 L327.3,357.3 L329.8,357.3 L329.8,356.3 L332.2,356.3 L332.2,355.9 L334.6,355.9 L334.6,355.5 L337.1,355.5 L337.1,355.4 L339.6,355.4 L339.6,355.4 L342.0,355.4 L342.0,355.7 L344.4,355.7 L344.4,355.8 L346.9,355.8 L346.9,354.9 L349.3,354.9 L349.3,354.5 L351.8,354.5 L351.8,355.0 L354.2,355.0 L354.2,354.5 L356.6,354.5 L356.6,355.3 L359.1,355.3 L359.1,353.9 L361.5,353.9 L361.5,354.3 L363.9,354.3 L363.9,354.2 L366.4,354.2 L366.4,354.5 L368.8,354.5 L368.8,353.8 L371.2,353.8 L371.2,354.5 L373.7,354.5 L373.7,353.7 L376.1,353.7 L376.1,353.3 L378.6,353.3 L378.6,353.4 L381.0,353.4 L381.0,353.4 L383.4,353.4 L383.4,352.6 L385.9,352.6 L385.9,353.0 L388.3,353.0 L388.3,352.7 L390.8,352.7 L390.8,353.4 L393.2,353.4 L393.2,353.2 L395.6,353.2 L395.6,352.6 L398.1,352.6 L398.1,351.9 L400.5,351.9 L400.5,352.4 L402.9,352.4 L402.9,352.4 L405.2,352.4 L405.2,352.6 L407.6,352.6 L407.6,352.9 L410.0,352.9 L410.0,353.6 L412.3,353.6 L412.3,353.6 L414.7,353.6 L414.7,354.9 L417.0,354.9 L417.0,354.2 L419.4,354.2 L419.4,354.5 L421.7,354.5 L421.7,355.5 L424.0,355.5 L424.0,356.6 L426.3,356.6 L426.3,356.6 L428.5,356.6 L428.5,357.7 L430.8,357.7 L430.8,357.4 L433.1,357.4 L433.1,358.6 L435.4,358.6 L435.4,358.5 L437.8,358.5 L437.8,359.2 L440.3,359.2 L440.3,359.9 L442.8,359.9 L442.8,360.3 L445.2,360.3 L445.2,360.4 L447.1,360.4 L447.1,368.2 L449.6,368.2 L449.6,368.5 L452.1,368.5 L452.1,368.2 L454.6,368.2 L454.6,368.7 L457.2,368.7 L457.2,369.9 L459.7,369.9 L459.7,370.2 L462.2,370.2 L462.2,370.5 L464.7,370.5 L464.7,370.2 L467.1,370.2 L467.1,370.0 L469.6,370.0 L469.6,370.4 L472.0,370.4 L472.0,370.6 L474.4,370.6 L474.4,370.4 L476.9,370.4 L476.9,370.6 L479.3,370.6 L479.3,370.2 L481.8,370.2 L481.8,370.4 L484.2,370.4 L484.2,370.2 L486.6,370.2 L486.6,370.4 L488.9,370.4 L488.9,369.7 L491.2,369.7 L491.2,370.5 L493.6,370.5 L493.6,370.4 L495.9,370.4 L495.9,369.1 L498.3,369.1 L498.3,370.3 L500.6,370.3 L500.6,370.1 L503.0,370.1 L503.0,369.6 L505.3,369.6 L505.3,368.7 L507.7,368.7 L507.7,369.2 L510.1,369.2 L510.1,369.6 L512.6,369.6 L512.6,368.4 L515.0,368.4 L515.0,369.5 L517.5,369.5 L517.5,368.9 L519.9,368.9 L519.9,368.0 L522.3,368.0 L522.3,368.0 L524.8,368.0 L524.8,368.5 L527.2,368.5 L527.2,368.2 L529.5,368.2 L529.5,367.9 L531.9,367.9 L531.9,367.8 L534.2,367.8 L534.2,367.7 L536.6,367.7 L536.6,366.3 L538.9,366.3 L538.9,366.3 L541.1,366.3 L541.1,365.4 L543.3,365.4 L543.3,366.4 L545.5,366.4 L545.5,364.9 L547.7,364.9 L547.7,365.8 L549.9,365.8 L549.9,364.5 L552.1,364.5 L552.1,365.2 L554.3,365.2 L554.3,364.9 L556.5,364.9 L556.5,364.3 L558.9,364.3 L558.9,364.7 L561.4,364.7 L561.4,364.1 L563.8,364.1 L563.8,364.5 L566.2,364.5 L566.2,363.4 L568.7,363.4 L568.7,364.0 L571.1,364.0 L571.1,363.4 L573.6,363.4 L573.6,364.1 L576.0,364.1 L576.0,363.4 L578.4,363.4 L578.4,363.7 L580.9,363.7 L580.9,363.1 L583.3,363.1 L583.3,363.1 L585.8,363.1 L585.8,362.2 L588.2,362.2 L588.2,362.1 L590.6,362.1 L590.6,362.8 L593.1,362.8 L593.1,362.5 L595.5,362.5 L595.5,362.4 L597.9,362.4 L597.9,362.7 L600.2,362.7 L600.2,362.1 L602.6,362.1 L602.6,361.1 L605.0,361.1 L605.0,361.4 L607.4,361.4 L607.4,361.4 L609.9,361.4 L609.9,362.2 L612.3,362.2 L612.3,362.0 L614.8,362.0 L614.8,361.5 L617.2,361.5 L617.2,362.9 L619.6,362.9 L619.6,363.1 L622.1,363.1 L622.1,362.2 L624.5,362.2 L624.5,363.0 L627.0,363.0 L627.0,363.1 L629.4,363.1 L629.4,362.9 L631.9,362.9 L631.9,363.6 L634.3,363.6 L634.3,362.9 L636.8,362.9 L636.8,362.9 L639.2,362.9 L639.2,363.3 L641.6,363.3 L641.6,364.0 L644.1,364.0 L644.1,363.4 L646.5,363.4 L646.5,363.0 L649.0,363.0 L649.0,363.2 L651.4,363.2 L651.4,364.1 L653.9,364.1 L653.9,364.7 L656.3,364.7 L656.3,364.4 L658.7,364.4 L658.7,364.4 L661.2,364.4 L661.2,365.2 L663.6,365.2 L663.6,364.9 L666.0,364.9 L666.0,365.5 L668.5,365.5 L668.5,364.6 L670.9,364.6 L670.9,366.0 L673.4,366.0 L673.4,365.2 L675.8,365.2 L675.8,365.5 L678.2,365.5 L678.2,366.4 L680.7,366.4 L680.7,366.0 L683.1,366.0 L683.1,366.3 L685.4,366.3 L685.4,366.4 L687.7,366.4 L687.7,365.2 L690.0,365.2 L690.0,365.8 L692.2,365.8 L692.2,364.5 L694.5,364.5 L694.5,364.1 L696.8,364.1 L696.8,364.3 L700.7,364.3 L700.7,361.8 L703.7,361.8 L703.7,363.0 L706.6,363.0 L706.6,364.3 L708.8,364.3 L708.8,364.3 L711.1,364.3 L711.1,364.8 L713.3,364.8 L713.3,365.5 L715.5,365.5 L715.5,365.4 L717.7,365.4 L717.7,364.6 L720.0,364.6 L720.0,365.2 L722.2,365.2 L722.2,365.7 L724.6,365.7 L724.6,365.8 L727.1,365.8 L727.1,365.8 L729.5,365.8 L729.5,366.2 L732.0,366.2 L732.0,366.0 L734.4,366.0 L734.4,365.5 L736.8,365.5 L736.8,365.8 L739.3,365.8 L739.3,366.7 L741.7,366.7 L741.7,366.3 L744.0,366.3 L744.0,366.5 L746.4,366.5 L746.4,367.4 L748.7,367.4 L748.7,368.1 L751.1,368.1 L751.1,368.0 L753.4,368.0 L753.4,368.2 L755.6,368.2 L755.6,368.6 L757.8,368.6 L757.8,368.6 L760.0,368.6 L760.0,368.3 L762.2,368.3 L762.2,369.3 L764.4,369.3 L764.4,368.8 L766.6,368.8 L766.6,369.5 L768.8,369.5 L768.8,368.8 L771.0,368.8 L771.0,369.2 L773.2,369.2 L773.2,369.9 L775.5,369.9 L775.5,369.9 L777.7,369.9 L777.7,369.8 L779.9,369.8 L779.9,369.7 L782.1,369.7 L782.1,369.4 L784.4,369.4 L784.4,370.4 L786.6,370.4 L786.6,370.2 L789.5,370.2 L789.5,369.0 L792.5,369.0 L792.5,368.2 L795.1,368.2 L795.1,369.7 L797.7,369.7 L797.7,370.3 L800.3,370.3 L800.3,372.1 L802.6,372.1 L802.6,371.6 L804.8,371.6 L804.8,371.7 L807.1,371.7 L807.1,372.7 L809.4,372.7 L809.4,371.8 L811.6,371.8 L811.6,372.9 L813.9,372.9 L813.9,372.4 L816.2,372.4 L816.2,372.1 L818.5,372.1 L818.5,372.3 L820.8,372.3 L820.8,371.9 L823.1,371.9 L823.1,372.2 L825.3,372.2 L825.3,371.4 L827.6,371.4 L827.6,371.7 L829.9,371.7 L829.9,372.4 L832.2,372.4 L832.2,371.2 L834.5,371.2 L834.5,371.6 L837.2,371.6 L837.2,372.6 L839.8,372.6 L839.8,373.0 L842.5,373.0 L842.5,374.0 L844.9,374.0 L844.9,373.9 L847.3,373.9 L847.3,373.7 L849.7,373.7 L849.7,373.9 L852.0,373.9 L852.0,375.4 L854.4,375.4 L854.4,375.5 L856.8,375.5 L856.8,375.6 L859.2,375.6 L859.2,375.8 L861.6,375.8 L861.6,375.6 L863.8,375.6 L863.8,376.2 L866.0,376.2 L866.0,375.1 L868.3,375.1 L868.3,375.7 L870.5,375.7 L870.5,375.6 L872.7,375.6 L872.7,375.6 L875.3,375.6 L875.3,376.0 L877.8,376.0 L877.8,376.9 L880.4,376.9 L880.4,376.9 L882.9,376.9 L882.9,377.5 L885.5,377.5 L885.5,377.2 L888.0,377.2 L888.0,377.0 L890.6,377.0 L890.6,378.0 L893.1,378.0 L893.1,378.4 L895.7,378.4 L895.7,378.8 L898.2,378.8 L898.2,378.8 L901.4,378.8 L901.4,376.9 L904.5,376.9 L904.5,374.8 L907.7,374.8 L907.7,376.9 L910.9,376.9 L910.9,378.0 L913.2,378.0 L913.2,378.0 L915.5,378.0 L915.5,379.2 L917.8,379.2 L917.8,378.8 L920.1,378.8 L920.1,379.3 L922.4,379.5 L922.4,460.0 Z" fill="#8b7657"/>
<path d="M27.8,143.3 L29.8,146.3 L32.1,143.3 L34.6,139.4 L36.6,142.3 L38.6,145.3 L41.5,145.3 L44.4,144.3 L46.4,142.3 L48.3,138.0 L51.3,138.8 L54.2,140.4 L57.1,140.0 L60.0,142.3 L61.6,143.2 L63.3,144.2 L64.9,144.7 L66.9,144.8 L68.8,144.7 L70.8,143.9 L72.7,143.8 L74.7,143.7 L76.6,142.9 L78.6,142.1 L80.5,142.3 L82.5,142.0 L84.5,142.6 L86.4,142.4 L88.4,142.3 L90.3,144.2 L92.3,145.3 L94.7,146.8 L97.1,149.2 L98.7,149.4 L100.4,149.3 L102.0,149.8 L103.6,150.5 L105.3,151.1 L106.9,151.7 L108.5,151.9 L110.2,152.9 L111.8,154.0 L113.8,155.0 L115.7,149.2 L117.7,147.5 L119.6,146.3 L121.5,147.2 L123.5,147.2 L126.4,147.2 L129.4,150.2 L132.3,145.3 L135.2,144.3 L137.2,146.3 L139.1,139.4 L142.1,135.1 L145.0,136.1 L147.9,138.4 L149.9,143.3 L152.8,147.2 L154.8,149.0 L156.7,150.2 L158.6,149.3 L160.6,149.2 L162.6,143.3 L164.6,144.1 L166.5,144.3 L168.4,144.9 L170.4,146.3 L172.3,145.9 L174.3,149.8 L176.2,150.6 L178.2,151.1 L180.1,151.7 L182.1,153.1 L184.1,154.5 L186.0,157.0 L187.9,159.1 L189.9,160.3 L192.3,162.9 L194.8,159.0 L197.7,155.0 L200.7,154.0 L202.6,154.2 L204.6,155.0 L207.5,156.0 L210.4,159.0 L212.4,159.3 L214.3,160.3 L216.1,161.1 L217.9,160.9 L219.9,155.0 L222.8,155.0 L224.8,156.4 L226.7,157.0 L228.6,158.2 L230.6,159.9 L232.6,161.0 L234.5,161.1 L236.1,161.4 L237.8,161.8 L239.4,161.9 L241.0,160.6 L242.7,160.5 L244.3,159.1 L246.2,159.9 L248.2,160.3 L250.1,161.3 L252.1,161.3 L253.7,162.1 L255.4,161.9 L257.0,162.5 L259.0,162.3 L260.9,162.1 L262.9,162.5 L265.8,164.8 L267.8,166.9 L269.7,169.7 L271.6,171.3 L273.6,168.7 L275.9,162.9 L278.5,162.9 L280.4,164.8 L283.4,162.9 L285.1,161.1 L286.9,160.3 L289.2,162.5 L291.1,162.9 L293.1,163.8 L294.9,162.7 L296.6,161.3 L299.0,163.4 L300.9,162.3 L302.9,162.3 L305.8,161.3 L308.8,161.9 L311.7,159.9 L313.6,161.1 L315.6,161.9 L317.2,162.9 L318.9,164.0 L320.5,165.4 L322.4,165.5 L324.4,164.8 L326.4,164.3 L328.3,163.8 L330.2,163.1 L332.2,162.9 L334.1,162.7 L336.1,162.5 L338.1,161.7 L340.0,160.5 L342.9,160.3 L345.5,155.0 L347.1,154.5 L348.8,155.0 L351.7,153.1 L354.6,150.2 L357.6,152.1 L359.2,153.5 L360.9,153.2 L362.5,154.6 L364.4,154.1 L366.4,153.1 L368.4,153.8 L370.3,153.7 L373.2,152.1 L375.1,150.8 L377.1,150.5 L379.1,151.1 L381.0,151.1 L382.9,151.7 L384.9,152.5 L386.9,153.1 L388.8,153.5 L390.8,153.1 L392.7,153.7 L394.3,152.8 L396.0,152.5 L397.6,152.5 L400.5,153.7 L402.1,153.9 L403.8,152.7 L405.4,152.7 L407.4,152.7 L409.3,152.1 L410.0,151.1 L412.9,146.2 L414.5,146.6 L416.2,146.5 L417.8,145.9 L419.8,145.8 L421.7,146.0 L423.7,146.2 L426.6,147.6 L429.5,146.2 L431.4,145.5 L433.4,144.7 L436.4,141.4 L438.0,141.7 L439.6,141.0 L441.2,141.4 L443.2,141.5 L445.2,141.3 L447.1,140.8 L450.0,138.8 L453.0,140.4 L455.9,139.4 L458.8,140.4 L461.8,138.4 L463.8,138.0 L465.7,136.9 L467.6,136.9 L469.6,138.0 L472.5,140.4 L475.4,143.9 L477.4,144.4 L479.3,143.9 L481.2,143.9 L483.2,144.7 L486.2,145.9 L488.1,144.3 L490.1,145.6 L492.0,147.2 L493.9,147.6 L495.9,147.8 L497.9,148.0 L499.8,147.2 L501.8,146.7 L503.8,146.6 L505.7,146.9 L507.7,146.2 L510.6,142.9 L512.2,142.1 L513.9,141.0 L515.5,140.4 L517.5,140.7 L519.4,141.4 L521.3,141.5 L523.3,142.3 L525.2,143.0 L527.2,144.7 L530.1,143.3 L533.0,144.7 L536.0,144.3 L538.9,146.2 L540.9,146.7 L542.8,148.2 L544.8,148.8 L546.7,149.1 L548.7,148.0 L550.6,148.2 L552.6,147.5 L554.5,148.3 L556.5,147.6 L558.4,148.2 L560.4,151.7 L562.4,151.9 L564.3,151.9 L566.2,152.1 L568.2,151.0 L570.2,150.5 L572.2,150.2 L574.1,149.6 L576.0,149.7 L578.0,149.0 L579.9,148.8 L581.9,148.7 L583.8,148.3 L585.8,148.8 L587.4,149.1 L589.1,147.9 L590.7,148.2 L592.7,149.2 L594.6,150.2 L596.2,150.6 L597.9,149.8 L599.5,150.2 L601.5,151.2 L603.4,151.7 L606.3,153.5 L608.9,154.4 L610.5,154.7 L612.2,154.1 L613.8,153.8 L615.8,153.2 L617.7,151.9 L619.3,151.7 L621.0,152.2 L622.6,152.5 L624.5,153.8 L626.5,155.8 L628.5,157.7 L630.4,158.9 L632.3,159.4 L634.3,160.3 L636.2,159.7 L638.2,159.3 L640.2,159.0 L642.1,157.7 L643.7,158.2 L645.4,158.4 L647.0,157.9 L649.9,160.3 L651.9,163.2 L653.8,163.6 L655.8,164.2 L658.7,165.5 L661.6,160.3 L663.6,162.2 L665.5,162.2 L667.5,162.2 L669.5,162.8 L671.4,162.8 L674.3,166.1 L677.3,170.0 L680.2,169.1 L683.1,168.1 L686.1,171.0 L688.0,170.8 L690.0,170.6 L692.0,170.6 L693.9,171.0 L695.8,176.9 L698.8,175.3 L700.7,174.2 L702.7,173.4 L705.1,172.3 L707.5,172.0 L709.5,172.6 L711.4,173.4 L713.4,174.5 L715.4,174.5 L718.3,173.0 L720.2,173.7 L722.2,173.4 L723.8,173.3 L725.5,172.9 L727.1,172.6 L728.7,172.7 L730.4,172.7 L732.0,173.4 L734.4,173.1 L736.8,173.4 L738.8,174.3 L740.7,174.5 L742.7,175.9 L744.6,176.5 L746.2,177.1 L747.9,178.3 L749.5,178.8 L751.5,179.6 L753.4,179.8 L755.3,179.1 L757.3,177.9 L759.3,177.6 L761.2,176.9 L763.2,175.7 L765.2,173.9 L767.2,173.7 L769.1,173.9 L771.0,173.2 L773.0,172.0 L774.6,171.4 L776.3,171.3 L777.9,171.0 L780.8,173.0 L782.8,174.7 L784.7,175.9 L787.6,181.8 L790.5,183.7 L793.5,182.7 L796.4,185.1 L797.8,179.9 L799.5,180.1 L801.3,179.9 L803.0,179.0 L804.6,179.1 L806.3,178.0 L807.9,178.8 L809.6,179.4 L811.2,179.9 L813.4,178.9 L815.5,178.9 L817.6,178.7 L819.7,178.4 L821.5,179.9 L823.2,182.0 L824.9,182.7 L826.5,182.9 L828.2,183.4 L830.3,184.4 L832.4,184.8 L834.5,185.0 L836.7,184.8 L838.8,186.5 L840.9,187.6 L843.0,188.5 L845.2,189.8 L847.3,189.5 L849.4,188.8 L851.5,189.1 L853.6,188.8 L855.8,193.3 L857.5,194.4 L859.3,194.7 L861.4,195.9 L863.5,197.5 L865.6,199.9 L867.8,201.5 L869.5,201.9 L871.3,201.5 L873.0,201.3 L874.6,201.3 L876.3,200.4 L878.4,202.5 L880.5,203.5 L882.6,204.6 L884.8,205.7 L886.9,207.3 L889.0,208.8 L890.4,213.1 L893.2,211.0 L895.4,211.7 L897.5,213.1 L899.6,215.2 L901.7,216.6 L903.5,217.4 L905.3,217.3 L907.0,219.4 L908.8,221.6 L911.6,227.2 L913.0,232.9 L914.5,227.2 L917.3,230.0 L919.0,232.4 L920.8,234.3" fill="none" stroke="#000000" stroke-width="2.3" stroke-linejoin="round" stroke-linecap="round"/>
<line x1="28" y1="493" x2="943.3" y2="493" stroke="#5a5a5a" stroke-width="1.8"/>
<line x1="942.5" y1="103" x2="942.5" y2="493.9" stroke="#3c3c3c" stroke-width="1.9"/>
<path d="M942.5,486.5 L945.0,488.2 L942.5,489.9 Z" fill="#3c3c3c"/>
<path d="M942.5,458.7 L948.3,460.4 L942.5,462.1 Z" fill="#3c3c3c"/>
<text x="950.5" y="467.0" font-size="18.5" textLength="9.2" lengthAdjust="spacingAndGlyphs" fill="#333333" stroke="#333333" stroke-width="0.45">0</text>
<path d="M942.5,430.9 L945.0,432.6 L942.5,434.3 Z" fill="#3c3c3c"/>
<path d="M942.5,403.1 L948.3,404.8 L942.5,406.4 Z" fill="#3c3c3c"/>
<text x="950.5" y="411.4" font-size="18.5" textLength="18.3" lengthAdjust="spacingAndGlyphs" fill="#333333" stroke="#333333" stroke-width="0.45">10</text>
<path d="M942.5,375.2 L945.0,376.9 L942.5,378.6 Z" fill="#3c3c3c"/>
<path d="M942.5,347.4 L948.3,349.1 L942.5,350.8 Z" fill="#3c3c3c"/>
<text x="950.5" y="355.7" font-size="18.5" textLength="18.3" lengthAdjust="spacingAndGlyphs" fill="#333333" stroke="#333333" stroke-width="0.45">20</text>
<path d="M942.5,319.6 L945.0,321.3 L942.5,323.0 Z" fill="#3c3c3c"/>
<path d="M942.5,291.7 L948.3,293.4 L942.5,295.1 Z" fill="#3c3c3c"/>
<text x="950.5" y="300.0" font-size="18.5" textLength="18.3" lengthAdjust="spacingAndGlyphs" fill="#333333" stroke="#333333" stroke-width="0.45">30</text>
<path d="M942.5,263.9 L945.0,265.6 L942.5,267.3 Z" fill="#3c3c3c"/>
<path d="M942.5,236.1 L948.3,237.8 L942.5,239.5 Z" fill="#3c3c3c"/>
<text x="950.5" y="244.4" font-size="18.5" textLength="18.3" lengthAdjust="spacingAndGlyphs" fill="#333333" stroke="#333333" stroke-width="0.45">40</text>
<path d="M942.5,208.3 L945.0,210.0 L942.5,211.7 Z" fill="#3c3c3c"/>
<path d="M942.5,180.4 L948.3,182.1 L942.5,183.8 Z" fill="#3c3c3c"/>
<text x="950.5" y="188.7" font-size="18.5" textLength="18.3" lengthAdjust="spacingAndGlyphs" fill="#333333" stroke="#333333" stroke-width="0.45">50</text>
<path d="M942.5,152.6 L945.0,154.3 L942.5,156.0 Z" fill="#3c3c3c"/>
<path d="M942.5,124.8 L948.3,126.5 L942.5,128.2 Z" fill="#3c3c3c"/>
<text x="950.5" y="133.1" font-size="18.5" textLength="18.3" lengthAdjust="spacingAndGlyphs" fill="#333333" stroke="#333333" stroke-width="0.45">60</text>
<line x1="59.4" y1="493" x2="59.4" y2="535" stroke="#7a7a7a" stroke-width="1.3"/>
<line x1="104.4" y1="493" x2="104.4" y2="535" stroke="#7a7a7a" stroke-width="1.3"/>
<line x1="150.0" y1="493" x2="150.0" y2="535" stroke="#7a7a7a" stroke-width="1.3"/>
<line x1="195.6" y1="493" x2="195.6" y2="535" stroke="#7a7a7a" stroke-width="1.3"/>
<line x1="241.2" y1="493" x2="241.2" y2="535" stroke="#7a7a7a" stroke-width="1.3"/>
<line x1="286.8" y1="493" x2="286.8" y2="535" stroke="#7a7a7a" stroke-width="1.3"/>
<line x1="332.4" y1="493" x2="332.4" y2="535" stroke="#7a7a7a" stroke-width="1.3"/>
<line x1="378.0" y1="493" x2="378.0" y2="535" stroke="#7a7a7a" stroke-width="1.3"/>
<line x1="423.5" y1="493" x2="423.5" y2="535" stroke="#7a7a7a" stroke-width="1.3"/>
<line x1="469.0" y1="493" x2="469.0" y2="535" stroke="#7a7a7a" stroke-width="1.3"/>
<line x1="514.5" y1="493" x2="514.5" y2="535" stroke="#7a7a7a" stroke-width="1.3"/>
<line x1="559.7" y1="493" x2="559.7" y2="535" stroke="#7a7a7a" stroke-width="1.3"/>
<line x1="605.0" y1="493" x2="605.0" y2="535" stroke="#7a7a7a" stroke-width="1.3"/>
<line x1="650.2" y1="493" x2="650.2" y2="535" stroke="#7a7a7a" stroke-width="1.3"/>
<line x1="695.5" y1="493" x2="695.5" y2="535" stroke="#7a7a7a" stroke-width="1.3"/>
<line x1="740.8" y1="493" x2="740.8" y2="535" stroke="#7a7a7a" stroke-width="1.3"/>
<line x1="786.1" y1="493" x2="786.1" y2="535" stroke="#7a7a7a" stroke-width="1.3"/>
<line x1="831.4" y1="493" x2="831.4" y2="535" stroke="#7a7a7a" stroke-width="1.3"/>
<line x1="876.7" y1="493" x2="876.7" y2="535" stroke="#7a7a7a" stroke-width="1.3"/>
<line x1="922.0" y1="493" x2="922.0" y2="535" stroke="#7a7a7a" stroke-width="1.3"/>
<text x="28" y="531" font-size="18.5" textLength="23.5" lengthAdjust="spacingAndGlyphs" fill="#333333" stroke="#333333" stroke-width="0.4">&#39;06</text>
<text x="70.2" y="531" font-size="18.5" textLength="23.5" lengthAdjust="spacingAndGlyphs" fill="#333333" stroke="#333333" stroke-width="0.4">&#39;07</text>
<text x="115.5" y="531" font-size="18.5" textLength="23.5" lengthAdjust="spacingAndGlyphs" fill="#333333" stroke="#333333" stroke-width="0.4">&#39;08</text>
<text x="161.1" y="531" font-size="18.5" textLength="23.5" lengthAdjust="spacingAndGlyphs" fill="#333333" stroke="#333333" stroke-width="0.4">&#39;09</text>
<text x="206.7" y="531" font-size="18.5" textLength="23.5" lengthAdjust="spacingAndGlyphs" fill="#333333" stroke="#333333" stroke-width="0.4">&#39;10</text>
<text x="252.2" y="531" font-size="18.5" textLength="23.5" lengthAdjust="spacingAndGlyphs" fill="#333333" stroke="#333333" stroke-width="0.4">&#39;11</text>
<text x="297.9" y="531" font-size="18.5" textLength="23.5" lengthAdjust="spacingAndGlyphs" fill="#333333" stroke="#333333" stroke-width="0.4">&#39;12</text>
<text x="343.4" y="531" font-size="18.5" textLength="23.5" lengthAdjust="spacingAndGlyphs" fill="#333333" stroke="#333333" stroke-width="0.4">&#39;13</text>
<text x="389.0" y="531" font-size="18.5" textLength="23.5" lengthAdjust="spacingAndGlyphs" fill="#333333" stroke="#333333" stroke-width="0.4">&#39;14</text>
<text x="434.5" y="531" font-size="18.5" textLength="23.5" lengthAdjust="spacingAndGlyphs" fill="#333333" stroke="#333333" stroke-width="0.4">&#39;15</text>
<text x="480.0" y="531" font-size="18.5" textLength="23.5" lengthAdjust="spacingAndGlyphs" fill="#333333" stroke="#333333" stroke-width="0.4">&#39;16</text>
<text x="525.4" y="531" font-size="18.5" textLength="23.5" lengthAdjust="spacingAndGlyphs" fill="#333333" stroke="#333333" stroke-width="0.4">&#39;17</text>
<text x="570.6" y="531" font-size="18.5" textLength="23.5" lengthAdjust="spacingAndGlyphs" fill="#333333" stroke="#333333" stroke-width="0.4">&#39;18</text>
<text x="615.8" y="531" font-size="18.5" textLength="23.5" lengthAdjust="spacingAndGlyphs" fill="#333333" stroke="#333333" stroke-width="0.4">&#39;19</text>
<text x="661.1" y="531" font-size="18.5" textLength="23.5" lengthAdjust="spacingAndGlyphs" fill="#333333" stroke="#333333" stroke-width="0.4">&#39;20</text>
<text x="706.4" y="531" font-size="18.5" textLength="23.5" lengthAdjust="spacingAndGlyphs" fill="#333333" stroke="#333333" stroke-width="0.4">&#39;21</text>
<text x="751.7" y="531" font-size="18.5" textLength="23.5" lengthAdjust="spacingAndGlyphs" fill="#333333" stroke="#333333" stroke-width="0.4">&#39;22</text>
<text x="797.0" y="531" font-size="18.5" textLength="23.5" lengthAdjust="spacingAndGlyphs" fill="#333333" stroke="#333333" stroke-width="0.4">&#39;23</text>
<text x="842.3" y="531" font-size="18.5" textLength="23.5" lengthAdjust="spacingAndGlyphs" fill="#333333" stroke="#333333" stroke-width="0.4">&#39;24</text>
<text x="887.6" y="531" font-size="18.5" textLength="23.5" lengthAdjust="spacingAndGlyphs" fill="#333333" stroke="#333333" stroke-width="0.4">&#39;25</text>
<text transform="translate(985.7,262) rotate(90)" x="0" y="0" font-size="21.6" textLength="74.5" lengthAdjust="spacingAndGlyphs" fill="#333333" stroke="#333333" stroke-width="0.4">Percent</text>
<rect x="33.2" y="84" width="9" height="9" fill="#000000"/>
<text x="46.5" y="93.3" font-size="15.4" textLength="185" lengthAdjust="spacingAndGlyphs" fill="#3c3c3c" stroke="#3c3c3c" stroke-width="0.35">USD role in global reserves</text>
<rect x="247.6" y="84" width="9" height="9" fill="#8b7657"/>
<text x="258" y="93.3" font-size="15.4" textLength="165.4" lengthAdjust="spacingAndGlyphs" fill="#3c3c3c" stroke="#3c3c3c" stroke-width="0.35">Euros in global reserves</text>
<rect x="439" y="84" width="9" height="9" fill="#902f24"/>
<text x="450.7" y="93.3" font-size="15.4" textLength="152.3" lengthAdjust="spacingAndGlyphs" fill="#3c3c3c" stroke="#3c3c3c" stroke-width="0.35">Yen in global reserves</text>
<rect x="618.5" y="84" width="9" height="9" fill="#c05394"/>
<text x="631" y="93.3" font-size="15.4" textLength="169.5" lengthAdjust="spacingAndGlyphs" fill="#3c3c3c" stroke="#3c3c3c" stroke-width="0.35">Pound in global reserves</text>
<rect x="816" y="84" width="9" height="9" fill="#9e9e9e"/>
<text x="828" y="93.3" font-size="15.4" textLength="157" lengthAdjust="spacingAndGlyphs" fill="#3c3c3c" stroke="#3c3c3c" stroke-width="0.35">Gold in global reserves</text>
<text x="26" y="35.2" font-family="DejaVu Sans, sans-serif" font-weight="bold" font-size="27.2" textLength="795.3" lengthAdjust="spacingAndGlyphs" fill="#000" stroke="#000" stroke-width="0.45">Dollar&#39;s Role in Global Reserves Is Withering Away</text>
<text x="26.4" y="61.8" font-family="DejaVu Sans, sans-serif" font-weight="bold" font-size="20.4" textLength="601" lengthAdjust="spacingAndGlyphs" fill="#000" stroke="#000" stroke-width="0.3">Greenback way under 50% as gold&#39;s weighting soars</text>
<text x="30.6" y="551.7" font-family="DejaVu Sans, sans-serif" font-weight="bold" font-size="14" textLength="192" lengthAdjust="spacingAndGlyphs" fill="#000">Source: IMF. Bloomberg</text>
<text x="882.6" y="551.3" font-family="Liberation Sans, sans-serif" font-weight="bold" font-size="18.5" textLength="96.8" lengthAdjust="spacingAndGlyphs" fill="#000">Bloomberg</text>
<path d="M989,537 H1001.6 V551.3 H997.5 L995.5,553.5 L993.5,551.3 H989 Z" fill="#000"/>
<rect x="991.3" y="546" width="1.2" height="3" fill="#fff"/>
<rect x="993.8" y="544" width="1.2" height="5" fill="#fff"/>
<rect x="996.3" y="541" width="1.2" height="8" fill="#fff"/>
<rect x="998.8" y="545" width="1.2" height="4" fill="#fff"/>
</svg>
</body></html>
